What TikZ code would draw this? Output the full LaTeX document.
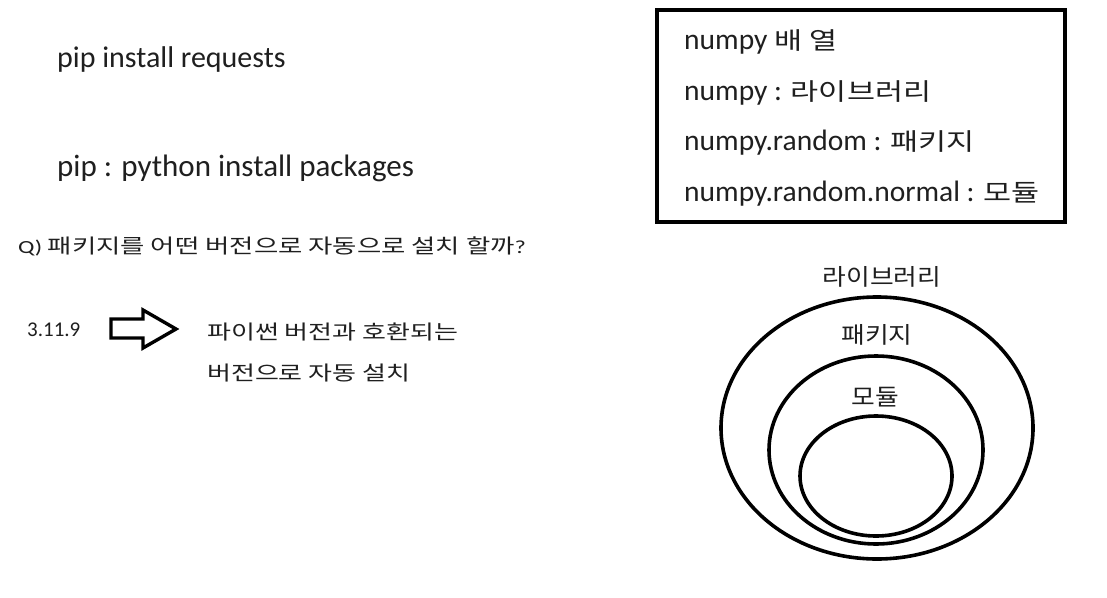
\documentclass[tikz,border=0pt]{standalone}
\usepackage{graphicx}
\usepackage{fontspec}
\setmainfont{Carlito}
\newfontfamily\cjk{Noto Sans CJK KR}
% \kr{stretch}{size}{text}
\newcommand\kr[3]{\scalebox{#1}[1]{\cjk\fontsize{#2}{#2}\selectfont #3}}
\begin{document}
\begin{tikzpicture}[x=1pt,y=-1pt,
  txt/.style={anchor=base west,inner sep=0pt,text=black!88},
  lbl/.style={anchor=center,inner sep=0pt,text=black!88},
  ring/.style={line width=3.6pt},
]
\useasboundingbox[fill=white] (0,0) rectangle (1107,597);
% left column
\node[txt,font=\fontsize{30}{34}\selectfont] (t1) at (57,67) {pip install requests};
\node[txt,font=\fontsize{31}{34}\selectfont] (t2) at (57,176) {pip : python install packages};
\node[txt] (q) at (18,253) {\scalebox{1.32}[1]{\fontsize{18.5}{22}\selectfont Q) {\cjk\fontsize{20}{22}\selectfont 패키지를 어떤 버전으로 자동으로 설치 할까}?}};
\node[txt,font=\fontsize{21}{24}\selectfont] (v) at (27,336) {3.11.9};
\draw[line width=3.4pt,line join=miter] (111,319) -- (143,319) -- (143,310) -- (176,329) -- (143,348) -- (143,338) -- (111,338) -- cycle;
\node[txt] (a1) at (207,339) {\kr{1.3}{20}{파이썬 버전과 호환되는}};
\node[txt] (a2) at (207,380) {\kr{1.3}{20}{버전으로 자동 설치}};
% box
\draw[line width=4pt] (657,10) rectangle (1065,222);
\node[txt,font=\fontsize{29.5}{32}\selectfont] (b1) at (684,49) {numpy \kr{1.27}{24}{배 열}};
\node[txt,font=\fontsize{29.5}{32}\selectfont] (b2) at (684,100) {numpy : \kr{1.27}{24}{라이브러리}};
\node[txt,font=\fontsize{29.5}{32}\selectfont] (b3) at (684,150) {numpy.random : \kr{1.27}{24}{패키지}};
\node[txt,font=\fontsize{29.5}{32}\selectfont] (b4) at (684,201) {numpy.random.normal : \kr{1.27}{24}{모듈}};
% nested sets
\draw[ring] (877,428) ellipse [x radius=156, y radius=131];
\draw[ring] (876,450) ellipse [x radius=107, y radius=94];
\draw[ring] (876,476) ellipse [x radius=76, y radius=60];
\node[lbl] (L1) at (882,277) {\kr{1.12}{23}{라이브러리}};
\node[lbl] (L2) at (877,335) {\kr{1.12}{23}{패키지}};
\node[lbl] (L3) at (875,397) {\kr{1.12}{23}{모듈}};
\end{tikzpicture}
\end{document}
